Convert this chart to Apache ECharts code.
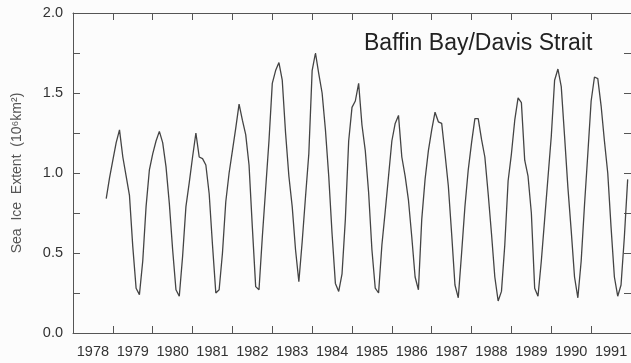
<!DOCTYPE html>
<html>
<head>
<meta charset="utf-8">
<script src="https://cdn.jsdelivr.net/npm/echarts@6/dist/echarts.min.js"></script>
<style>
html,body{margin:0;padding:0;background:#fcfcfc;}
#c{width:631px;height:363px;}
</style>
</head>
<body>
<div id="c"></div>
<script>
// Category labels on the bottom axis (one per year band)
var years = ['1978','1979','1980','1981','1982','1983','1984','1985','1986','1987','1988','1989','1990','1991'];
// Monthly series starts November 1978
var startYear = 1978;
var startMonth = 11;
// Monthly sea ice extent (10^6 km^2)
var extent = [
  0.84, 0.97,
  1.08, 1.19, 1.27, 1.10, 0.98, 0.86, 0.54, 0.28, 0.24, 0.45, 0.79, 1.02,
  1.12, 1.20, 1.26, 1.19, 1.04, 0.81, 0.52, 0.27, 0.23, 0.48, 0.79, 0.94,
  1.10, 1.25, 1.10, 1.09, 1.05, 0.87, 0.55, 0.25, 0.27, 0.50, 0.82, 1.00,
  1.14, 1.28, 1.43, 1.33, 1.24, 1.05, 0.66, 0.29, 0.27, 0.60, 0.90, 1.20,
  1.56, 1.64, 1.69, 1.58, 1.25, 0.98, 0.79, 0.52, 0.32, 0.57, 0.85, 1.12,
  1.64, 1.75, 1.62, 1.50, 1.27, 0.98, 0.62, 0.31, 0.26, 0.37, 0.71, 1.20,
  1.41, 1.45, 1.56, 1.30, 1.14, 0.88, 0.52, 0.28, 0.25, 0.55, 0.76, 0.98,
  1.20, 1.31, 1.36, 1.10, 0.98, 0.83, 0.60, 0.35, 0.27, 0.71, 0.96, 1.14,
  1.27, 1.38, 1.32, 1.31, 1.12, 0.92, 0.62, 0.30, 0.22, 0.50, 0.79, 1.02,
  1.19, 1.34, 1.34, 1.21, 1.10, 0.87, 0.62, 0.35, 0.20, 0.26, 0.55, 0.95,
  1.12, 1.33, 1.47, 1.44, 1.08, 0.98, 0.75, 0.28, 0.23, 0.45, 0.71, 0.97,
  1.23, 1.58, 1.65, 1.54, 1.23, 0.91, 0.64, 0.35, 0.22, 0.45, 0.80, 1.12,
  1.45, 1.60, 1.59, 1.42, 1.20, 1.00, 0.66, 0.35, 0.23, 0.30, 0.60, 0.96
];
var yMin = 0, yMax = 2, yStep = 0.25;
var titleText = 'Baffin Bay/Davis Strait';
var yName = 'Sea  Ice  Extent  (10\u2076km\u00B2)';

var points = extent.map(function (v, i) {
  return [startYear + (startMonth - 1 + i) / 12, v];
});

var axisColor = '#555';
var textColor = '#333';
var font = '"Liberation Sans", Arial, Helvetica, sans-serif';

var chart = echarts.init(document.getElementById('c'), null, {renderer: 'canvas'});
chart.setOption({
  backgroundColor: '#fcfcfc',
  animation: false,
  title: {
    text: titleText,
    left: 364,
    top: 32,
    padding: 0,
    textStyle: {fontFamily: font, fontSize: 23, fontWeight: 'normal', color: '#222'}
  },
  grid: {left: 73, top: 13, right: -2.3, bottom: 30, containLabel: false},
  xAxis: [
    {
      type: 'category',
      data: years,
      boundaryGap: true,
      position: 'bottom',
      axisLine: {show: true, lineStyle: {color: axisColor, width: 1}},
      axisTick: {show: true, inside: true, length: 7, lineStyle: {color: axisColor}},
      axisLabel: {show: true, margin: 11, fontFamily: font, fontSize: 14.5, color: textColor, interval: 0},
      splitLine: {show: false}
    },
    {
      type: 'value',
      min: 1978,
      max: 1992,
      interval: 1,
      position: 'top',
      axisLine: {show: true, onZero: false, lineStyle: {color: axisColor, width: 1}},
      axisTick: {show: true, inside: true, length: 7, lineStyle: {color: axisColor}},
      axisLabel: {show: false},
      splitLine: {show: false}
    }
  ],
  yAxis: [
    {
      type: 'value',
      min: yMin,
      max: yMax,
      interval: yStep,
      position: 'left',
      name: yName,
      nameLocation: 'middle',
      nameGap: 49,
      nameRotate: 90,
      nameTextStyle: {fontFamily: font, fontSize: 14, color: '#555'},
      axisLine: {show: true, onZero: false, lineStyle: {color: axisColor, width: 1}},
      axisTick: {show: true, inside: true, length: 7, lineStyle: {color: axisColor}},
      axisLabel: {
        show: true, margin: 10, fontFamily: font, fontSize: 14.5, color: textColor,
        formatter: function (v) {
          return Math.abs(v * 2 - Math.round(v * 2)) < 1e-6 ? v.toFixed(1) : '';
        }
      },
      splitLine: {show: false}
    },
    {
      type: 'value',
      min: yMin,
      max: yMax,
      interval: yStep,
      position: 'right',
      axisLine: {show: true, onZero: false, lineStyle: {color: axisColor, width: 1}},
      axisTick: {show: true, inside: true, length: 7, lineStyle: {color: axisColor}},
      axisLabel: {show: false},
      splitLine: {show: false}
    }
  ],
  series: [{
    type: 'line',
    xAxisIndex: 1,
    yAxisIndex: 0,
    data: points,
    showSymbol: false,
    symbol: 'none',
    smooth: false,
    clip: true,
    lineStyle: {color: '#444', width: 1.3}
  }]
});
</script>
</body>
</html>
